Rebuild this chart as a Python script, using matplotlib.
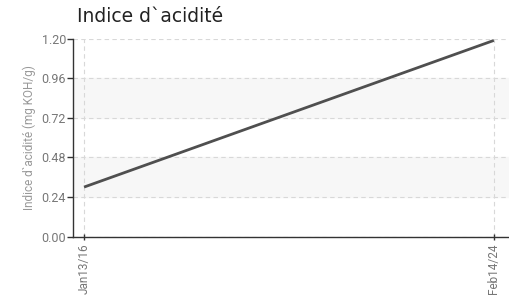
import matplotlib
matplotlib.use("Agg")
import matplotlib.pyplot as plt

# data
dates = ["Jan13/16", "Feb14/24"]
acidity = [0.30, 1.19]
yticks = [0.00, 0.24, 0.48, 0.72, 0.96, 1.20]
bands = [(0.24, 0.48), (0.72, 0.96)]

plt.rcParams['font.family'] = ['Roboto', 'DejaVu Sans']

fig = plt.figure(figsize=(5.09, 2.96), dpi=100)
ax = fig.add_axes([0.1434, 0.201, 0.8566, 0.668])

x = list(range(len(dates)))
for lo, hi in bands:
    ax.axhspan(lo, hi, color='#f7f7f7', zorder=0)
ax.plot(x, acidity, color='#4f4f4f', linewidth=2.0, solid_capstyle='butt', zorder=3)

ax.set_xlim(-0.027, 1.037)
ax.set_ylim(0, 1.2)
ax.set_yticks(yticks)
ax.set_yticklabels([f"{v:.2f}" for v in yticks])
ax.set_xticks(x)
ax.set_xticklabels(dates, rotation=90)

ax.grid(True, color='#d8d8d8', linestyle=(0, (4, 3)), linewidth=0.8)
ax.set_axisbelow(True)

for s in ['top', 'right']:
    ax.spines[s].set_visible(False)
for s in ['left', 'bottom']:
    ax.spines[s].set_color('#333333')
    ax.spines[s].set_linewidth(1.0)

ax.tick_params(axis='y', colors='#333333', labelcolor='#777777', labelsize=9,
               length=4, width=1, pad=1)
ax.tick_params(axis='x', colors='#333333', labelcolor='#777777', labelsize=8.5,
               length=4, width=1, direction='inout', pad=3)

ax.set_ylabel("Indice d`acidité (mg KOH/g)", color='#999999', fontsize=8.5, labelpad=4)
fig.text(0.151, 0.943, "Indice d`acidité", fontsize=13.5, color='#222222',
         family='DejaVu Sans', va='center', ha='left')

fig.savefig("out.png", dpi=100)
